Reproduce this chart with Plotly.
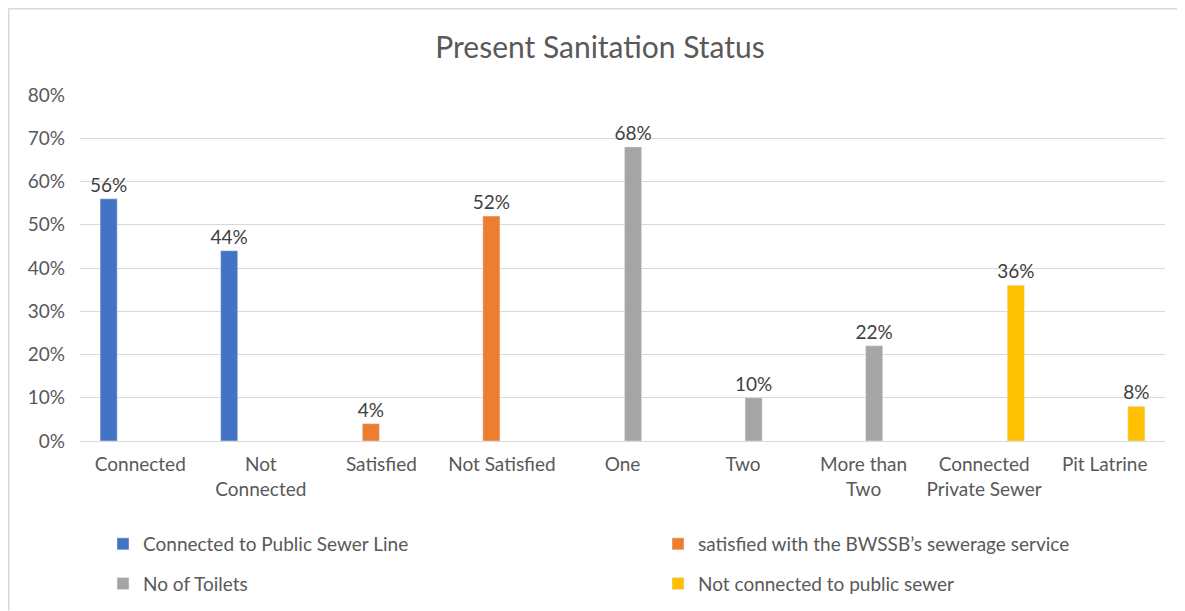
import plotly.graph_objects as go

# categories and series (one value per category, others empty)
categories = ["Connected", "Not<br>Connected", "Satisfied", "Not Satisfied", "One",
              "Two", "More than<br>Two", "Connected<br>Private Sewer", "Pit Latrine"]

series_names = ["Connected to Public Sewer Line",
                "satisfied with the BWSSB\u2019s sewerage service",
                "No of Toilets",
                "Not connected to public sewer"]

public_sewer = [0.56, 0.44, None, None, None, None, None, None, None]
bwssb_service = [None, None, 0.04, 0.52, None, None, None, None, None]
toilets = [None, None, None, None, 0.68, 0.10, 0.22, None, None]
not_connected = [None, None, None, None, None, None, None, 0.36, 0.08]

colors = ["#4472C4", "#ED7D31", "#A5A5A5", "#FFC000"]
legend_ids = ["legend", "legend2", "legend", "legend2"]
FONT = "Lato, 'Open Sans', sans-serif"
GREY = "#595959"

W, H = 1177, 603
L, R, T, B = 72, 20, 87, 170

fig = go.Figure()
for i, (name, vals, col) in enumerate(zip(series_names,
                                          [public_sewer, bwssb_service, toilets, not_connected],
                                          colors)):
    fig.add_trace(go.Bar(
        x=categories, y=vals, name=name, marker_color=col,
        legend=legend_ids[i], legendgroup=f"g{i}",
        text=[f"{v:.0%}" if v is not None else "" for v in vals],
        textposition="outside", cliponaxis=False, constraintext="none",
        textfont=dict(size=19, color="#404040", family=FONT),
    ))

legend_style = dict(orientation="v", xref="container", yref="container",
                    yanchor="top", xanchor="left", tracegroupgap=12,
                    font=dict(size=19, color=GREY, family=FONT),
                    bgcolor="rgba(0,0,0,0)", itemwidth=30)

fig.update_layout(
    width=W, height=H,
    barmode="group", bargap=0.3, bargroupgap=0.19,
    paper_bgcolor="white", plot_bgcolor="white",
    margin=dict(l=L, r=R, t=T, b=B, autoexpand=False),
    font=dict(family=FONT, color=GREY, size=19),
    title=dict(text="Present Sanitation Status", x=0.503, xref="container", xanchor="center",
               y=1 - 39 / H, yref="container", yanchor="middle",
               font=dict(size=30, color=GREY, family=FONT)),
    showlegend=True,
    legend=dict(x=95 / W, y=1 - 517 / H, **legend_style),
    legend2=dict(x=650 / W, y=1 - 517 / H, **legend_style),
)

fig.update_yaxes(range=[0, 0.8], dtick=0.1, tickformat=".0%", showgrid=True,
                 gridcolor="#D9D9D9", gridwidth=1, zeroline=False,
                 ticklabelstandoff=14, tickfont=dict(size=19, color=GREY))
fig.update_xaxes(showline=True, linecolor="#D9D9D9", linewidth=1,
                 tickfont=dict(size=19, color=GREY), ticklabelstandoff=6)

# outer chart border (top and left edges visible in the original)
pw, ph = W - L - R, H - T - B
fig.add_shape(type="line", xref="paper", yref="paper",
              x0=(0.5 - L) / pw, x1=(W - L) / pw, y0=1 + (T - 0.5) / ph, y1=1 + (T - 0.5) / ph,
              line=dict(color="#D9D9D9", width=2))
fig.add_shape(type="line", xref="paper", yref="paper",
              x0=(0.5 - L) / pw, x1=(0.5 - L) / pw, y0=1 + (T - 0.5) / ph, y1=-(B - 0.5) / ph,
              line=dict(color="#D9D9D9", width=2))

fig.write_html("out.html")
